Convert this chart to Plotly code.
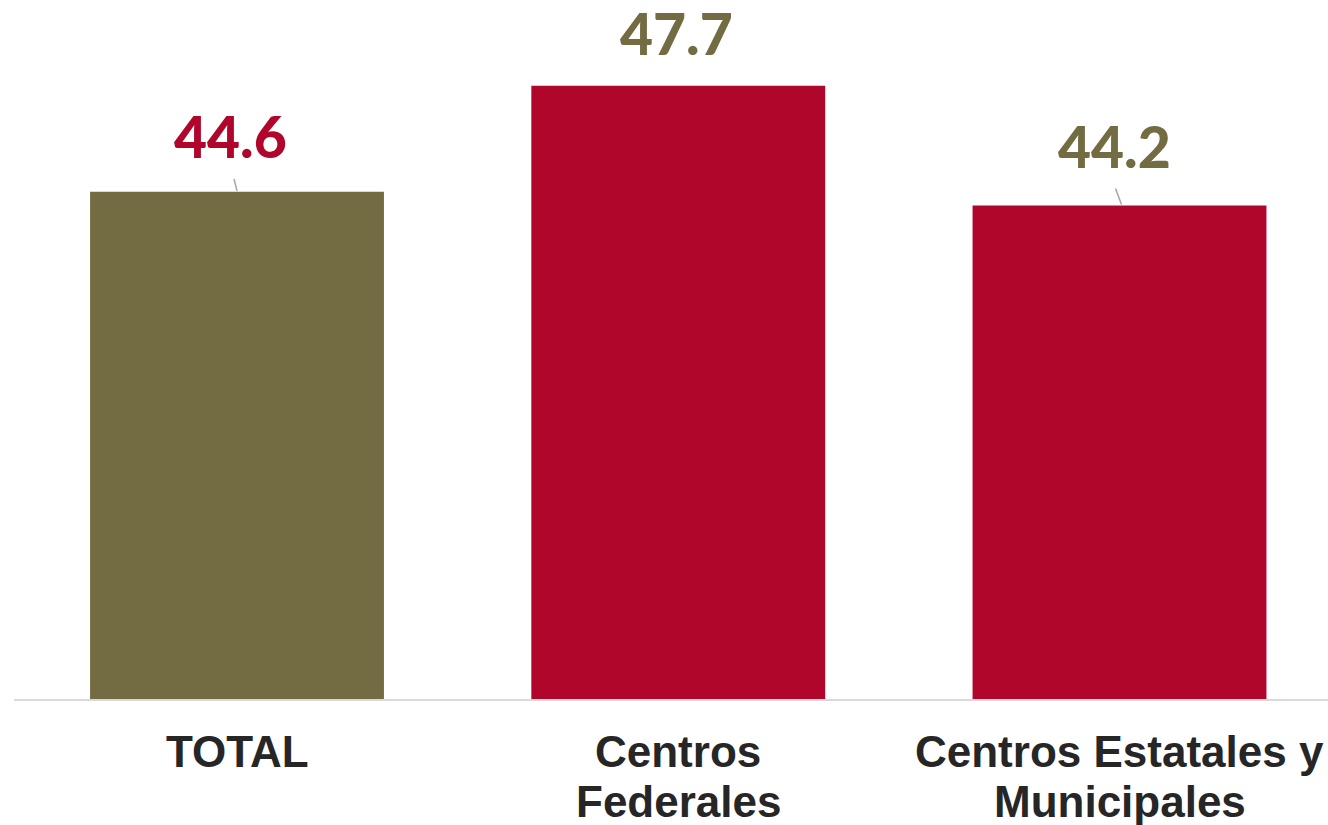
import plotly.graph_objects as go

categories = ["TOTAL", "Centros<br>Federales", "Centros Estatales y<br>Municipales"]
values = [44.6, 47.7, 44.2]
labels = ["44.6", "47.7", "44.2"]
bar_colors = ["#736B41", "#B0062C", "#B0062C"]
label_colors = ["#B0062C", "#736B41", "#736B41"]
label_dx = [-7, -2, -5]
label_dy = [56, 53, 60]
leaders = [True, False, True]

xs = list(range(len(categories)))

fig = go.Figure()
fig.add_trace(go.Bar(
    x=xs, y=values, width=0.666,
    marker=dict(color=bar_colors, line=dict(width=0)),
    hoverinfo="skip",
))

for i, (v, t, c, dx, dy, ld) in enumerate(zip(values, labels, label_colors, label_dx, label_dy, leaders)):
    fig.add_annotation(
        x=i, y=v, text=t, showarrow=False,
        xanchor="center", yanchor="middle",
        xshift=dx, yshift=dy, height=50, valign="middle",
        font=dict(family="Lato", size=57, color=c, weight=900),
    )
    if ld:
        fig.add_shape(
            type="line", xref="x", yref="y",
            xsizemode="pixel", ysizemode="pixel",
            xanchor=i, yanchor=v,
            x0=0 if i == 0 else 2, y0=1, x1=-3 if i == 0 else -4, y1=13 if i == 0 else 17,
            line=dict(color="#A6A6A6", width=1.5),
        )

# category labels, one annotation per line for Excel-like line spacing
line_gap = 50
for i, cat in enumerate(categories):
    for k, part in enumerate(cat.split("<br>")):
        fig.add_annotation(
            x=i, xref="x", y=0, yref="paper", text=part, showarrow=False,
            xanchor="center", yanchor="middle",
            yshift=-52 - k * line_gap,
            font=dict(family="Liberation Sans, Arial", size=44, color="#262626", weight=700),
        )

fig.update_layout(
    width=1328, height=825,
    margin=dict(l=14, r=0, t=0, b=126, autoexpand=False),
    paper_bgcolor="white", plot_bgcolor="white",
    showlegend=False,
    xaxis=dict(
        range=[-0.5054, 2.4725],
        showticklabels=False, automargin=False,
        showline=True, linecolor="#D9D9D9", linewidth=2,
        showgrid=False, zeroline=False, ticks="",
    ),
    yaxis=dict(
        range=[29.77, 50.21], visible=False, showgrid=False, zeroline=False,
        automargin=False,
    ),
)

fig.write_html(
    "out.html",
    config={"displayModeBar": False},
    post_script="document.body.style.margin='0px';document.body.style.overflow='hidden';",
)
